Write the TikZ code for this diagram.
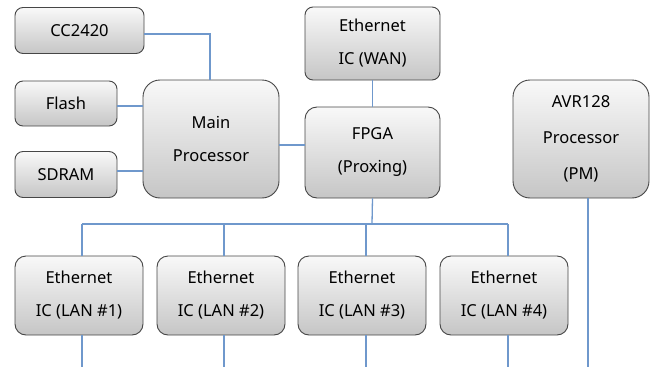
\documentclass[tikz,border=0pt]{standalone}
\usepackage{fontspec}
\setmainfont{Noto Sans}
\definecolor{wire}{HTML}{6F98CC}
\definecolor{edge}{HTML}{464646}
\begin{document}
\begin{tikzpicture}[x=1pt,y=-1pt,
  blk/.style={draw=edge, line width=0.9pt, top color=gray!5, bottom color=gray!45,
    rounded corners=8pt, inner sep=0pt, align=center,
    font=\fontsize{16.5}{33}\selectfont},
  link/.style={draw=wire, line width=1.3pt},
  thick link/.style={draw=wire, line width=2.4pt}]
\useasboundingbox (0,0) rectangle (657,367);
\node[blk, minimum width=129pt, minimum height=46pt] (cc) at (79.5,30.5) {CC2420};
\node[blk, minimum width=102pt, minimum height=45pt] (flash) at (66,103.5) {Flash};
\node[blk, minimum width=102pt, minimum height=46pt] (sdram) at (66,174.5) {SDRAM};
\node[blk, rounded corners=17pt, minimum width=136pt, minimum height=118pt] (main) at (211,139) {Main\\Processor};
\node[blk, minimum width=135pt, minimum height=73pt] (wan) at (372.5,43.5) {Ethernet\\IC (WAN)};
\node[blk, rounded corners=12pt, minimum width=135pt, minimum height=91pt] (fpga) at (372.5,152.5) {FPGA\\(Proxing)};
\node[blk, rounded corners=17pt, minimum width=136pt, minimum height=118pt,
  font=\fontsize{16.5}{36}\selectfont] (avr) at (581,139) {AVR128\\Processor\\(PM)};
\node[blk, rounded corners=11pt, minimum width=128pt, minimum height=79pt] (lan1) at (79,295.5) {Ethernet\\IC (LAN \#1)};
\node[blk, rounded corners=11pt, minimum width=128pt, minimum height=79pt] (lan2) at (221,295.5) {Ethernet\\IC (LAN \#2)};
\node[blk, rounded corners=11pt, minimum width=128pt, minimum height=79pt] (lan3) at (362,295.5) {Ethernet\\IC (LAN \#3)};
\node[blk, rounded corners=11pt, minimum width=128pt, minimum height=79pt] (lan4) at (504,295.5) {Ethernet\\IC (LAN \#4)};
% bus coordinates
\coordinate (bus) at (372,224);
\coordinate (b1) at (82,224);
\coordinate (b2) at (224,224);
\coordinate (b3) at (366,224);
\coordinate (b4) at (508,224);
\coordinate (e1) at (82,367);
\coordinate (e2) at (224,367);
\coordinate (e3) at (366,367);
\coordinate (e4) at (508,367);
\coordinate (eavr) at (588,367);
% connectors
\draw[link] ([yshift=-3.5pt]cc.east) -| ([xshift=-1pt]main.north);
\draw[thick link] ([yshift=-2.5pt]flash.east) -- ([yshift=-2.5pt]flash.east -| main.west);
\draw[link] ([yshift=3.5pt]sdram.east) -- ([yshift=3.5pt]sdram.east -| main.west);
\draw[thick link] ([yshift=-6pt]main.east) -- ([yshift=-6pt]main.east -| fpga.west);
\draw[link] (wan.south) -- (fpga.south |- fpga.north);
\draw[link] (fpga.south) -- (bus);
\draw[link] (b1) -- (b4);
\draw[link] (b1) -- (b1 |- lan1.north);
\draw[link] (b2) -- (b2 |- lan2.north);
\draw[link] (b3) -- (b3 |- lan3.north);
\draw[link] (b4) -- (b4 |- lan4.north);
\draw[link] (e1 |- lan1.south) -- (e1);
\draw[link] (e2 |- lan2.south) -- (e2);
\draw[link] (e3 |- lan3.south) -- (e3);
\draw[link] (e4 |- lan4.south) -- (e4);
\draw[link] (eavr |- avr.south) -- (eavr);
\end{tikzpicture}
\end{document}
